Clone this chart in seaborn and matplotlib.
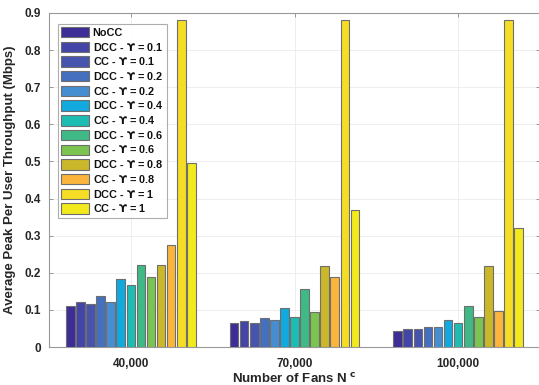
import matplotlib
matplotlib.use("Agg")
import matplotlib.pyplot as plt
import seaborn as sns
import pandas as pd

groups = ["40,000", "70,000", "100,000"]
series = ["NoCC", "DCC - $ϒ$ = 0.1", "CC - $ϒ$ = 0.1", "DCC - $ϒ$ = 0.2", "CC - $ϒ$ = 0.2",
          "DCC - $ϒ$ = 0.4", "CC - $ϒ$ = 0.4", "DCC - $ϒ$ = 0.6", "CC - $ϒ$ = 0.6",
          "DCC - $ϒ$ = 0.8", "CC - $ϒ$ = 0.8", "DCC - $ϒ$ = 1", "CC - $ϒ$ = 1"]
vals_40k = [0.110, 0.122, 0.115, 0.137, 0.122, 0.183, 0.167, 0.220, 0.188, 0.220, 0.275, 0.880, 0.497]
vals_70k = [0.064, 0.070, 0.066, 0.077, 0.074, 0.104, 0.082, 0.156, 0.093, 0.219, 0.188, 0.880, 0.370]
vals_100k = [0.044, 0.049, 0.048, 0.055, 0.053, 0.073, 0.064, 0.111, 0.081, 0.217, 0.097, 0.880, 0.320]
colors = ["#3d2d96", "#4346a6", "#4654ae", "#4470bf", "#468ed2", "#12a9df", "#1ebdb3",
          "#3fb986", "#7bc44f", "#cbb82a", "#fbb53c", "#f4dd24", "#f2ea1d"]

rows = []
for g, vals in zip(groups, [vals_40k, vals_70k, vals_100k]):
    for s, v in zip(series, vals):
        rows.append({"group": g, "series": s, "value": v})
df = pd.DataFrame(rows)

sns.set_theme(style="white")
plt.rcParams["font.family"] = ["Liberation Sans", "DejaVu Sans"]
plt.rcParams["font.weight"] = "bold"
plt.rcParams["mathtext.fontset"] = "dejavusans"
plt.rcParams["mathtext.default"] = "bf"

fig = plt.figure(figsize=(5.39, 3.85), dpi=100)
ax = fig.add_axes([49 / 539, 38 / 385, (540 - 49) / 539, (347 - 13) / 385])

sns.barplot(data=df, x="group", y="value", hue="series", order=groups, hue_order=series,
            palette=colors, gap=0.14, edgecolor="#6e6e6e", linewidth=0.8,
            saturation=1, errorbar=None, ax=ax, zorder=3)

ax.set_xlim(-0.5, 2.5)
ax.set_ylim(0, 0.9)
ax.set_yticks([i / 10 for i in range(10)])
ax.set_yticklabels(["0", "0.1", "0.2", "0.3", "0.4", "0.5", "0.6", "0.7", "0.8", "0.9"])
ax.grid(True, color="#ebebeb", linewidth=0.6, zorder=0)
ax.set_axisbelow(True)
ax.tick_params(axis="both", direction="in", length=3, width=0.6, color="#888888",
               labelsize=8.5, top=True, right=True, bottom=True, left=True, pad=6)
ax.tick_params(axis="x", pad=8)
for lab in ax.get_xticklabels() + ax.get_yticklabels():
    lab.set_fontweight("bold")
    lab.set_color("#262626")
for sp in ax.spines.values():
    sp.set_color("#999999")
    sp.set_linewidth(0.8)

ax.set_xlabel("Number of Fans N $^{c}$", fontsize=9.5, fontweight="bold", color="#262626", labelpad=1)
ax.set_ylabel("Average Peak Per User Throughput (Mbps)", fontsize=9.5, fontweight="bold",
              color="#262626", labelpad=6)

leg = ax.legend(loc="upper left", bbox_to_anchor=(0.018, 0.968), fontsize=7.8, frameon=True,
                fancybox=False, edgecolor="#999999", handlelength=2.6, handleheight=1.1,
                labelspacing=0.25, borderpad=0.3, handletextpad=0.3, borderaxespad=0)
leg.get_frame().set_linewidth(0.8)
for t in leg.get_texts():
    t.set_fontweight("bold")
    t.set_color("#111111")

fig.savefig("out.png", dpi=100)
